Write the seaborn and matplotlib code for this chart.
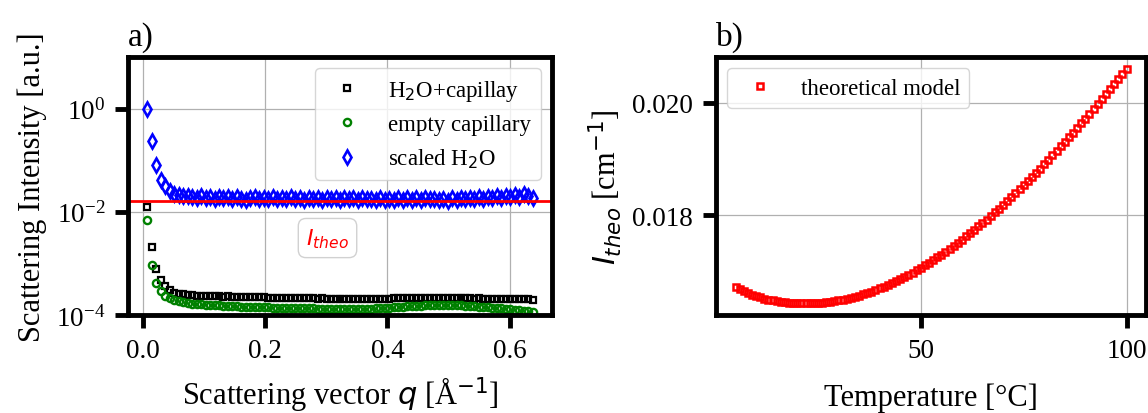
import matplotlib
matplotlib.use("Agg")
import matplotlib.pyplot as plt
import seaborn as sns
from matplotlib.ticker import MultipleLocator, FixedLocator, NullLocator, FormatStrFormatter

# ---------------- data: panel a) ----------------
q = [0.0072, 0.0145, 0.0219, 0.0292, 0.0365, 0.0439, 0.0512, 0.0585, 0.0658, 0.0732,
     0.0805, 0.0878, 0.0952, 0.1025, 0.1098, 0.1172, 0.1245, 0.1318, 0.1391, 0.1465,
     0.1538, 0.1611, 0.1685, 0.1758, 0.1831, 0.1905, 0.1978, 0.2051, 0.2124, 0.2198,
     0.2271, 0.2344, 0.2418, 0.2491, 0.2564, 0.2638, 0.2711, 0.2784, 0.2857, 0.2931,
     0.3004, 0.3077, 0.3151, 0.3224, 0.3297, 0.3371, 0.3444, 0.3517, 0.3590, 0.3664,
     0.3737, 0.3810, 0.3884, 0.3957, 0.4030, 0.4104, 0.4177, 0.4250, 0.4323, 0.4397,
     0.4470, 0.4543, 0.4617, 0.4690, 0.4763, 0.4837, 0.4910, 0.4983, 0.5056, 0.5130,
     0.5203, 0.5276, 0.5350, 0.5423, 0.5496, 0.5570, 0.5643, 0.5716, 0.5789, 0.5863,
     0.5936, 0.6009, 0.6083, 0.6156, 0.6229, 0.6303, 0.6376]

h2o_capillary = [0.0122, 0.00205, 0.00078, 0.00048, 0.00037, 0.00031, 0.00027, 0.00026, 0.000252, 0.000246,
                 0.000242, 0.000238, 0.000236,
                 0.000234, 0.000231, 0.000233, 0.000229, 0.000227, 0.000229, 0.000225, 0.000224, 0.000226,
                 0.000222, 0.000221, 0.000223, 0.000219, 0.000220, 0.000218,
                 0.000216, 0.000218, 0.000214, 0.000213, 0.000215, 0.000211, 0.000212, 0.000210, 0.000211,
                 0.000209, 0.000208, 0.000210, 0.000207,
                 0.000208, 0.000206, 0.000207, 0.000205, 0.000206, 0.000204, 0.000205, 0.000206, 0.000204,
                 0.000205, 0.000207, 0.000206, 0.000208, 0.000207, 0.000209,
                 0.000210, 0.000209, 0.000211, 0.000212, 0.000211, 0.000213, 0.000212, 0.000214, 0.000213,
                 0.000215, 0.000214, 0.000213, 0.000214, 0.000212, 0.000211,
                 0.000210, 0.000209, 0.000208, 0.000209, 0.000207, 0.000206, 0.000205, 0.000206, 0.000204,
                 0.000203, 0.000204, 0.000202, 0.000201, 0.000202, 0.000200, 0.000199]

empty_capillary = [0.0070, 0.00093, 0.00041, 0.00029, 0.000237, 0.000214, 0.000196, 0.000184, 0.000177, 0.000171,
                   0.000167, 0.000164, 0.000161,
                   0.000159, 0.000157, 0.000156, 0.000154, 0.000152, 0.000151, 0.000149, 0.000148, 0.000146,
                   0.000145, 0.000144, 0.000143, 0.000142, 0.000141, 0.000140,
                   0.000139, 0.000138, 0.000138, 0.000137, 0.000136, 0.000136, 0.000135, 0.000135, 0.000134,
                   0.000134, 0.000133, 0.000133, 0.000132,
                   0.000132, 0.000131, 0.000131, 0.000131, 0.000130, 0.000130, 0.000131, 0.000131, 0.000132,
                   0.000133, 0.000134, 0.000135, 0.000137, 0.000139, 0.000141,
                   0.000143, 0.000145, 0.000147, 0.000149, 0.000150, 0.000152, 0.000153, 0.000154, 0.000155,
                   0.000155, 0.000156, 0.000155, 0.000155, 0.000154, 0.000153,
                   0.000151, 0.000149, 0.000147, 0.000145, 0.000143, 0.000141, 0.000139, 0.000136, 0.000134,
                   0.000131, 0.000128, 0.000126, 0.000123, 0.000121, 0.000118, 0.000116]

scaled_h2o = [1.0, 0.24, 0.080, 0.041, 0.031, 0.025, 0.0225, 0.021, 0.0205, 0.020,
              0.0195, 0.0182, 0.0198, 0.0185, 0.0192, 0.0180, 0.0196, 0.0184, 0.0190, 0.0178,
              0.0193, 0.0181, 0.0170, 0.0186, 0.0191, 0.0179,
              0.0189, 0.0177, 0.0192, 0.0180, 0.0187, 0.0175, 0.0190, 0.0179, 0.0185, 0.0172,
              0.0188, 0.0176, 0.0183, 0.0171, 0.0187, 0.0178, 0.0184, 0.0170, 0.0186, 0.0175,
              0.0182, 0.0169, 0.0185, 0.0174, 0.0181, 0.0168, 0.0184, 0.0172, 0.0180, 0.0167,
              0.0183, 0.0171, 0.0186, 0.0173, 0.0182, 0.0169, 0.0185, 0.0174, 0.0181, 0.0166,
              0.0179, 0.0160, 0.0183, 0.0172, 0.0186, 0.0175, 0.0189, 0.0177, 0.0192, 0.0180,
              0.0195, 0.0183, 0.0198, 0.0186, 0.0203, 0.0190, 0.0208, 0.0194, 0.0222, 0.0198,
              0.0185]

i_theo_level = 0.0164

# ---------------- data: panel b) ----------------
temperature = [5, 6, 7, 8, 9, 10, 11, 12, 13, 14, 15, 16, 17, 18, 19, 20,
               21, 22, 23, 24, 25, 26, 27, 28, 29, 30, 31, 32, 33, 34, 35, 36,
               37, 38, 39, 40, 41, 42, 43, 44, 45, 46, 47, 48, 49, 50, 51, 52,
               53, 54, 55, 56, 57, 58, 59, 60, 61, 62, 63, 64, 65, 66, 67, 68,
               69, 70, 71, 72, 73, 74, 75, 76, 77, 78, 79, 80, 81, 82, 83, 84,
               85, 86, 87, 88, 89, 90, 91, 92, 93, 94, 95, 96, 97, 98, 99, 100]

i_theo = [0.016729, 0.016689, 0.016653, 0.016621, 0.016592, 0.016566, 0.016543, 0.016523,
          0.016506, 0.016491, 0.016478, 0.016467, 0.016458, 0.016451, 0.016446, 0.016443,
          0.016441, 0.016440, 0.016441, 0.016443, 0.016447, 0.016452, 0.016459, 0.016468,
          0.016478, 0.016490, 0.016504, 0.016520, 0.016537, 0.016556, 0.016577, 0.016599,
          0.016623, 0.016648, 0.016675, 0.016703, 0.016733, 0.016764, 0.016797, 0.016831,
          0.016867, 0.016904, 0.016943, 0.016983, 0.017025, 0.017068, 0.017113, 0.017159,
          0.017206, 0.017254, 0.017304, 0.017355, 0.017407, 0.017460, 0.017515, 0.017570,
          0.017627, 0.017684, 0.017743, 0.017803, 0.017864, 0.017926, 0.017990, 0.018054,
          0.018120, 0.018186, 0.018254, 0.018322, 0.018392, 0.018462, 0.018534, 0.018606,
          0.018680, 0.018754, 0.018830, 0.018906, 0.018984, 0.019062, 0.019141, 0.019222,
          0.019302, 0.019384, 0.019466, 0.019550, 0.019633, 0.019718, 0.019803, 0.019890,
          0.019976, 0.020064, 0.020152, 0.020241, 0.020330, 0.020420, 0.020510, 0.020601]

# ---------------- styling ----------------
sns.set_theme(style="whitegrid")
plt.rcParams.update({
    "font.family": ["Liberation Serif", "DejaVu Serif"],
    "mathtext.fontset": "dejavusans",
    "axes.edgecolor": "black",
    "axes.linewidth": 3.5,
    "axes.facecolor": "white",
    "axes.labelcolor": "black",
    "text.color": "black",
    "grid.color": "#b0b0b0",
    "grid.linewidth": 0.9,
    "xtick.bottom": True,
    "ytick.left": True,
    "xtick.color": "black",
    "ytick.color": "black",
    "xtick.major.size": 9.5,
    "ytick.major.size": 9.5,
    "xtick.major.width": 3.5,
    "ytick.major.width": 3.5,
    "xtick.major.pad": 7,
    "ytick.major.pad": 7,
    "xtick.minor.size": 0,
    "ytick.minor.size": 0,
    "xtick.labelsize": 19.5,
    "ytick.labelsize": 19.5,
    "axes.labelsize": 22,
    "legend.fontsize": 16.5,
})

fig = plt.figure(figsize=(11.48, 4.14), dpi=100)
ax1 = fig.add_axes([0.1115, 0.2367, 0.3693, 0.6232])
ax2 = fig.add_axes([0.6237, 0.2367, 0.3746, 0.6232])

# ---- panel a ----
ax1.set_yscale("log")
sns.lineplot(x=q, y=h2o_capillary, ax=ax1, estimator=None, sort=False,
             marker="s", linestyle="", markersize=4.6, markerfacecolor="none",
             markeredgecolor="black", markeredgewidth=1.6, color="black",
             label="H$_2$O+capillay")
sns.lineplot(x=q, y=empty_capillary, ax=ax1, estimator=None, sort=False,
             marker="o", linestyle="", markersize=5.2, markerfacecolor="none",
             markeredgecolor="green", markeredgewidth=1.7, color="green",
             label="empty capillary")
sns.lineplot(x=q, y=scaled_h2o, ax=ax1, estimator=None, sort=False,
             marker="d", linestyle="", markersize=7, markerfacecolor="none",
             markeredgecolor="blue", markeredgewidth=1.9, color="blue",
             label="scaled H$_2$O")
ax1.axhline(i_theo_level, color="red", linewidth=2)
ax1.text(0.302, 0.0031, r"$I_{theo}$", color="red", fontsize=16, ha="center", va="center",
         bbox=dict(boxstyle="round,pad=0.35", fc="white", ec="0.8", alpha=0.9))
ax1.set_ylim(1e-4, 1e1)
ax1.yaxis.set_major_locator(FixedLocator([1e-4, 1e-2, 1e0]))
ax1.yaxis.set_minor_locator(NullLocator())
ax1.xaxis.set_major_locator(MultipleLocator(0.2))
ax1.set_xlabel(r"Scattering vector $q$ [Å$^{-1}$]", labelpad=8)
ax1.set_ylabel("Scattering Intensity [a.u.]", labelpad=6)
ax1.set_title("a)", loc="left", fontsize=24, pad=9)
ax1.legend(loc="upper right", framealpha=0.8, edgecolor="0.8")
ax1.grid(True, which="major")

# ---- panel b ----
sns.lineplot(x=temperature, y=i_theo, ax=ax2, estimator=None, sort=False,
             marker="s", linestyle="", markersize=4.8, markerfacecolor="none",
             markeredgecolor="red", markeredgewidth=1.8, color="red",
             label="theoretical model")
ax2.xaxis.set_major_locator(MultipleLocator(50))
ax2.yaxis.set_major_locator(MultipleLocator(0.002))
ax2.yaxis.set_major_formatter(FormatStrFormatter("%.3f"))
ax2.set_xlabel("Temperature [°C]", labelpad=14)
ax2.set_ylabel(r"$I_{theo}$ [cm$^{-1}$]", labelpad=6)
ax2.set_title("b)", loc="left", fontsize=24, pad=9)
ax2.legend(loc="upper left", framealpha=0.8, edgecolor="0.8")
ax2.grid(True, which="major")

for ax in (ax1, ax2):
    for side in ("top", "right", "left", "bottom"):
        ax.spines[side].set_visible(True)
        ax.spines[side].set_color("black")
        ax.spines[side].set_linewidth(3.5)

fig.savefig("out.png", dpi=100)
